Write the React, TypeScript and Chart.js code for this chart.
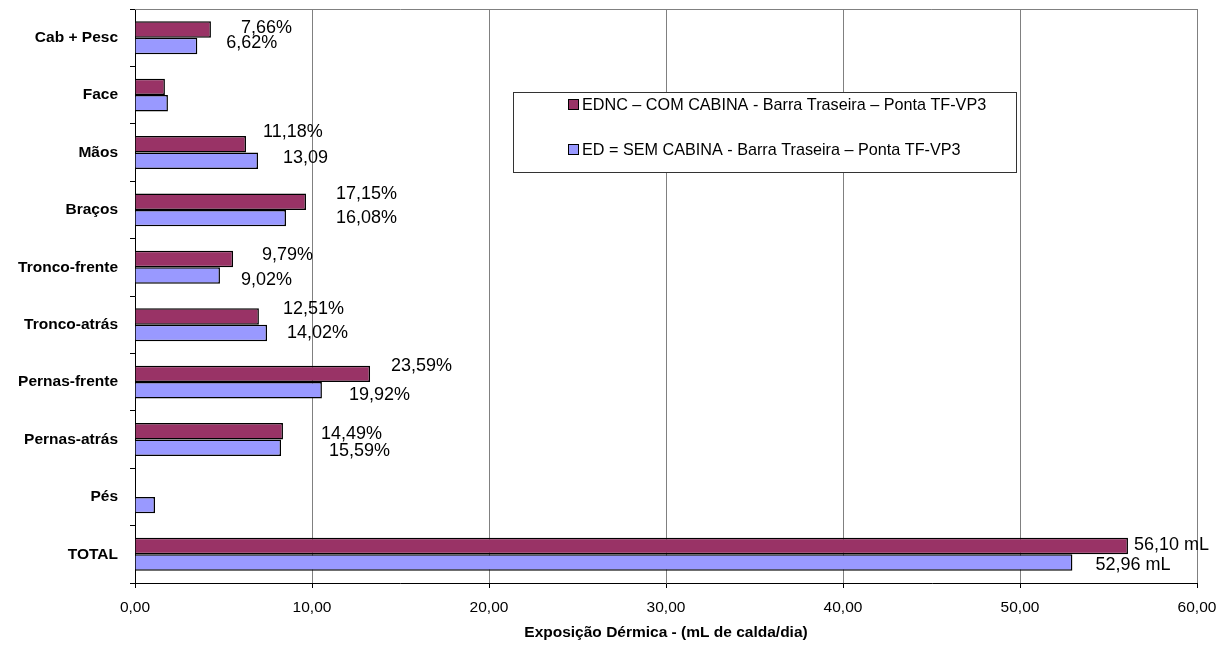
import React, { useEffect, useRef } from 'react';
import { Chart, registerables } from 'chart.js';

Chart.register(...registerables);

// Body regions (categories), top to bottom
const categories = [
  'Cab + Pesc',
  'Face',
  'Mãos',
  'Braços',
  'Tronco-frente',
  'Tronco-atrás',
  'Pernas-frente',
  'Pernas-atrás',
  'Pés',
  'TOTAL',
];

const seriesNames = [
  'EDNC – COM CABINA - Barra Traseira – Ponta TF-VP3',
  'ED = SEM CABINA - Barra Traseira – Ponta TF-VP3',
];

// Dermal exposure, mL de calda/dia
const comCabina: (number | null)[] = [4.29, 1.69, 6.27, 9.66, 5.54, 7.0, 13.28, 8.36, null, 56.1];
const semCabina: (number | null)[] = [3.52, 1.86, 6.95, 8.53, 4.8, 7.46, 10.56, 8.25, 1.13, 52.96];

// Text written next to each bar
const comCabinaLabels = ['7,66%', '', '11,18%', '17,15%', '9,79%', '12,51%', '23,59%', '14,49%', '', '56,10 mL'];
const semCabinaLabels = ['6,62%', '', '13,09', '16,08%', '9,02%', '14,02%', '19,92%', '15,59%', '', '52,96 mL'];

const xMin = 0;
const xMax = 60;
const xStep = 10;
const xAxisTitle = 'Exposição Dérmica - (mL de calda/dia)';

const seriesColors = ['#993366', '#9999FF'];

// Label placement relative to the end of each bar: [dx, dy] in px
const comLabelOffsets = [
  [30, -1.5], [0, 0], [17, -11.8], [30, -7.7], [29, -4], [24, -7.5], [21, -8.2], [38, 3.2], [0, 0], [6, -1.5],
];
const semLabelOffsets = [
  [29, -2.5], [0, 0], [25, -2.8], [50, 0.2], [21, 4.2], [20, 0], [27, 4.4], [48, 2.8], [0, 0], [23, 2.2],
];

const FONT = '"Liberation Sans", Arial, Helvetica, sans-serif';

const fmtComma = (v: number) => v.toFixed(2).replace('.', ',');

const framePlugin = {
  id: 'plotFrame',
  beforeDatasetsDraw(chart: any) {
    const { ctx, chartArea } = chart;
    ctx.save();
    ctx.strokeStyle = '#808080';
    ctx.lineWidth = 1;
    ctx.beginPath();
    ctx.moveTo(chartArea.left, chartArea.top + 0.5);
    ctx.lineTo(chartArea.right + 0.5, chartArea.top + 0.5);
    ctx.lineTo(chartArea.right + 0.5, chartArea.bottom);
    ctx.stroke();
    ctx.restore();
  },
};

const valueLabelPlugin = {
  id: 'valueLabels',
  afterDatasetsDraw(chart: any) {
    const { ctx } = chart;
    const allLabels = [comCabinaLabels, semCabinaLabels];
    const allOffsets = [comLabelOffsets, semLabelOffsets];
    ctx.save();
    ctx.font = `18px ${FONT}`;
    ctx.fillStyle = '#000';
    ctx.textAlign = 'left';
    ctx.textBaseline = 'middle';
    chart.data.datasets.forEach((_: any, di: number) => {
      const meta = chart.getDatasetMeta(di);
      meta.data.forEach((bar: any, i: number) => {
        const text = allLabels[di][i];
        if (!text) return;
        const [dx, dy] = allOffsets[di][i];
        ctx.fillText(text, bar.x + dx, bar.y + dy);
      });
    });
    ctx.restore();
  },
};

const legendBoxPlugin = {
  id: 'legendBox',
  afterDraw(chart: any) {
    const { ctx } = chart;
    const box = { x: 513.5, y: 92.5, w: 503, h: 80 };
    ctx.save();
    ctx.fillStyle = '#fff';
    ctx.fillRect(box.x, box.y, box.w, box.h);
    ctx.strokeStyle = '#333';
    ctx.lineWidth = 1;
    ctx.strokeRect(box.x, box.y, box.w, box.h);
    ctx.font = `16.2px ${FONT}`;
    ctx.textBaseline = 'middle';
    ctx.textAlign = 'left';
    const rows = [105, 150];
    chart.data.datasets.forEach((ds: any, i: number) => {
      const cy = rows[i];
      ctx.fillStyle = ds.backgroundColor;
      ctx.fillRect(568.5, cy - 5.5, 10, 10);
      ctx.strokeStyle = '#000';
      ctx.strokeRect(568.5, cy - 5.5, 10, 10);
      ctx.fillStyle = '#000';
      ctx.fillText(ds.label, 582, cy + 1);
    });
    ctx.restore();
  },
};

export default function App() {
  const canvasRef = useRef<HTMLCanvasElement | null>(null);

  useEffect(() => {
    if (!canvasRef.current) return;
    Chart.defaults.font.family = FONT;
    const chart = new Chart(canvasRef.current, {
      type: 'bar',
      data: {
        labels: categories,
        datasets: [
          {
            label: seriesNames[0],
            data: comCabina,
            backgroundColor: seriesColors[0],
            borderColor: '#000',
            borderWidth: 1.5,
            categoryPercentage: 0.574,
            barPercentage: 1,
          },
          {
            label: seriesNames[1],
            data: semCabina,
            backgroundColor: seriesColors[1],
            borderColor: '#000',
            borderWidth: 1.5,
            categoryPercentage: 0.574,
            barPercentage: 1,
          },
        ],
      },
      options: {
        indexAxis: 'y',
        responsive: false,
        maintainAspectRatio: false,
        animation: false,
        layout: { padding: { top: 9, right: 30, left: 0, bottom: 0 } },
        plugins: {
          legend: { display: false },
          tooltip: { enabled: false },
        },
        scales: {
          x: {
            type: 'linear',
            min: xMin,
            max: xMax,
            ticks: {
              stepSize: xStep,
              color: '#000',
              font: { size: 15.5, family: FONT },
              padding: 10,
              callback: (v: any) => fmtComma(Number(v)),
            },
            grid: {
              color: '#808080',
              lineWidth: 1,
              tickLength: 5,
              tickColor: '#000',
            },
            border: { color: '#000', width: 1 },
            title: {
              display: true,
              text: xAxisTitle,
              color: '#000',
              font: { size: 15.5, weight: 'bold', family: FONT },
              padding: { top: 0, bottom: 3 },
            },
            afterFit: (scale: any) => {
              scale.height = 62;
            },
          },
          y: {
            type: 'category',
            ticks: {
              color: '#000',
              font: { size: 15.5, weight: 'bold', family: FONT },
              padding: 12,
              autoSkip: false,
            },
            grid: {
              drawOnChartArea: false,
              offset: true,
              tickLength: 5,
              tickColor: '#000',
            },
            border: { color: '#000', width: 1 },
            afterFit: (scale: any) => {
              scale.width = 135;
              scale.paddingTop = 0;
              scale.paddingBottom = 0;
            },
          },
        },
      },
      plugins: [framePlugin, valueLabelPlugin, legendBoxPlugin],
    } as any);
    return () => chart.destroy();
  }, []);

  return (
    <div style={{ position: 'fixed', left: 0, top: 0, width: 1227, height: 645, background: '#fff' }}>
      <canvas ref={canvasRef} width={1227} height={645} />
    </div>
  );
}
